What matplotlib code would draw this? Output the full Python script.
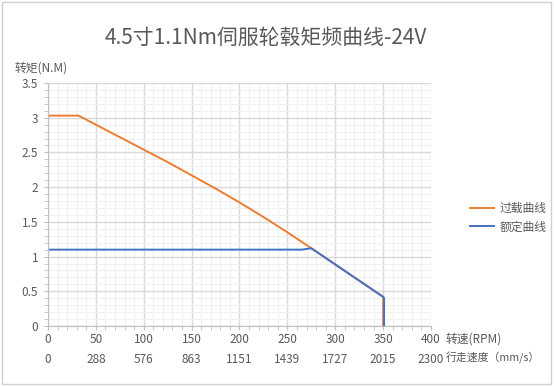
import matplotlib.pyplot as plt
from matplotlib.ticker import MultipleLocator, FormatStrFormatter
from matplotlib.patches import Rectangle

plt.rcParams['font.family'] = ['Noto Sans CJK SC', 'DejaVu Sans']

# 过载曲线 (overload)
over_rpm = [0, 32, 50, 75, 100, 125, 150, 175, 200, 225, 250, 275, 350, 350]
over_tq = [3.03, 3.03, 2.90, 2.72, 2.54, 2.36, 2.17, 1.98, 1.78, 1.57, 1.35, 1.12, 0.42, 0]
# 额定曲线 (rated)
rated_rpm = [0, 265, 275, 350, 351, 351]
rated_tq = [1.1, 1.1, 1.12, 0.42, 0.40, 0]

rpm_ticks = [0, 50, 100, 150, 200, 250, 300, 350, 400]
speed_labels = ['0', '288', '576', '863', '1151', '1439', '1727', '2015', '2300']

orange = '#ED7D31'
blue = '#4472C4'
txt = '#595959'

fig = plt.figure(figsize=(5.54, 3.86), dpi=100)
fig.patches.append(Rectangle((0.004, 0.005), 0.99, 0.99, transform=fig.transFigure,
                             fill=False, edgecolor='#D0D0D0', linewidth=1))
ax = fig.add_axes([0.0866, 0.1554, 0.6914, 0.6296])

ax.plot(over_rpm, over_tq, color=orange, linewidth=1.4, label='过载曲线')
ax.plot(rated_rpm, rated_tq, color=blue, linewidth=1.4, label='额定曲线')

ax.set_xlim(0, 400)
ax.set_ylim(0, 3.5)
ax.set_xticks(rpm_ticks)
ax.xaxis.set_minor_locator(MultipleLocator(10))
ax.yaxis.set_major_locator(MultipleLocator(0.5))
ax.yaxis.set_minor_locator(MultipleLocator(0.1))
ax.yaxis.set_major_formatter(FormatStrFormatter('%g'))

ax.grid(which='major', color='#D9D9D9', linewidth=1)
ax.grid(which='minor', color='#F0F0F0', linewidth=0.8)
ax.set_axisbelow(True)

for s in ['top', 'right']:
    ax.spines[s].set_visible(False)
for s in ['left', 'bottom']:
    ax.spines[s].set_color('#BFBFBF')
ax.tick_params(which='both', colors='#BFBFBF', labelcolor=txt, labelsize=8.5, direction='out')
ax.tick_params(which='major', length=3)
ax.tick_params(which='minor', length=3)
ax.tick_params(axis='x', pad=2)
ax.tick_params(axis='y', pad=4)

sec = ax.secondary_xaxis(-0.11)
sec.set_xticks(rpm_ticks)
sec.set_xticklabels(speed_labels)
sec.spines['bottom'].set_visible(False)
sec.tick_params(length=0, pad=0, labelcolor=txt, labelsize=8.5)

fig.text(0.48, 0.902, '4.5寸1.1Nm伺服轮毂矩频曲线-24V', ha='center', va='center',
         fontsize=15, color=txt)
fig.text(0.027, 0.823, '转矩(N.M)', ha='left', va='center', fontsize=8.5, color=txt)
fig.text(0.805, 0.122, '转速(RPM)', ha='left', va='center', fontsize=8.5, color=txt)
fig.text(0.805, 0.072, '行走速度（mm/s）', ha='left', va='center', fontsize=7.8, color=txt)

fig.legend(loc='upper left', bbox_to_anchor=(0.83, 0.505), frameon=False,
           fontsize=8.5, labelcolor=txt, handlelength=2.0, handletextpad=0.5)

fig.savefig('out.png', dpi=100)
